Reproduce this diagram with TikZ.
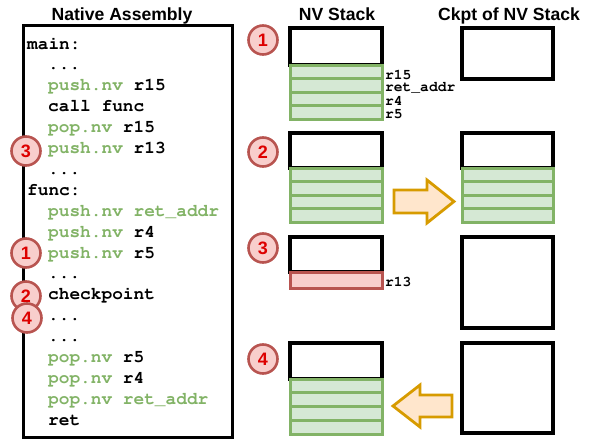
\documentclass[tikz,border=0pt]{standalone}
\usepackage{fontspec}
\setmainfont{Liberation Sans}
\setmonofont{Liberation Mono}
\usetikzlibrary{positioning,calc}
\definecolor{nvgreen}{HTML}{82B366}
\definecolor{nvfill}{HTML}{D5E8D4}
\definecolor{stepline}{HTML}{B85450}
\definecolor{stepfill}{HTML}{F8CECC}
\definecolor{steptext}{HTML}{DD0000}
\definecolor{arrline}{HTML}{D79B00}
\definecolor{arrfill}{HTML}{FFE6CC}
\newcommand*{\nv}[1]{\textcolor{nvgreen}{#1}}
\newcommand*{\skipped}{...}
\newcommand*{\courier}{\fontencoding{T1}\fontfamily{pcr}\bfseries}

\begin{document}
\begin{tikzpicture}[x=1pt,y=-1pt,
  title/.style={font=\fontsize{17.6}{20}\selectfont\bfseries,anchor=base,inner sep=0pt},
  code/.style={font=\courier\fontsize{17.8}{21}\selectfont,anchor=base west,inner sep=0pt},
  reg/.style={font=\courier\fontsize{14.6}{15}\selectfont,anchor=west,inner sep=0pt},
  stepnum/.style={circle,draw=stepline,fill=stepfill,line width=2.6pt,minimum size=29pt,
    inner sep=0pt,text=steptext,font=\fontsize{18}{18}\selectfont\bfseries},
  stackbox/.style={draw=black,line width=3.2pt},
  slot/.style={draw=nvgreen,fill=nvfill,line width=3pt},
  redslot/.style={draw=stepline,fill=stepfill,line width=3pt},
  blockarrow/.style={draw=arrline,fill=arrfill,line width=2.8pt,line join=miter}]
\useasboundingbox (0,0) rectangle (590,439);
% Titles of the three columns
\node[title] (asmtitle) at (122,20) {Native Assembly};
\node[title] (nvtitle) at (337,20) {NV Stack};
\node[title] (ckpttitle) at (509,20) {Ckpt of NV Stack};
% Box of the native assembly
\draw[line width=3pt] (23,25) rectangle (232,437.5);
% Code lines: indent / text
\foreach \ind/\txt [count=\i from 0] in {
  27/main:, 48/\skipped, 48/\nv{push.nv} r15, 48/call func, 48/\nv{pop.nv} r15,
  48/\nv{push.nv} r13, 48/\skipped, 27/func:, 48/\nv{push.nv ret\_addr},
  48/\nv{push.nv} r4, 48/\nv{push.nv} r5, 48/\skipped, 48/checkpoint, 48/\skipped,
  48/\skipped, 48/\nv{pop.nv} r5, 48/\nv{pop.nv} r4, 48/\nv{pop.nv ret\_addr}, 48/ret}
  \node[code] (code\i) at (\ind,49+\i*20.9) {\txt};
% Step marks in the code
\node[stepnum] (codestep3) at (26,151) {3};
\node[stepnum] (codestep1) at (26,253) {1};
\node[stepnum] (codestep2) at (26,296) {2};
\node[stepnum] (codestep4) at (27,318) {4};
% Step 1: four registers pushed
\node[stepnum] (step1) at (263,40) {1};
\draw[stackbox] (290,28) rectangle (382,65);
\foreach \k in {0,1,2,3}
  \draw[slot] (290,65+\k*13.5) rectangle (382,78.5+\k*13.5);
\node[reg] (r15) at (385,75) {r15};
\node[reg] (retaddr) at (385,88) {ret\_addr};
\node[reg] (r4) at (385,101) {r4};
\node[reg] (r5) at (385,114) {r5};
\draw[stackbox] (462,28) rectangle (553,79);
% Step 2: checkpoint copies the stack
\node[stepnum] (step2) at (263,152) {2};
\draw[stackbox] (290,133) rectangle (382,168);
\draw[stackbox] (462,133) rectangle (553,168);
\foreach \k in {0,1,2,3} {
  \draw[slot] (290,168+\k*13.5) rectangle (382,181.5+\k*13.5);
  \draw[slot] (462,168+\k*13.5) rectangle (553,181.5+\k*13.5);
}
\draw[blockarrow] (394,190) -- (427,190) -- (427,180) -- (454,201.5)
  -- (427,223) -- (427,213) -- (394,213) -- cycle;
% Step 3: r13 pushed
\node[stepnum] (step3) at (263,248) {3};
\draw[stackbox] (290,237) rectangle (382,272);
\draw[redslot] (290,272) rectangle (382,288);
\node[reg] (r13) at (385,282) {r13};
\draw[stackbox] (462,237) rectangle (553,328);
% Step 4: stack restored from the checkpoint
\node[stepnum] (step4) at (263,359) {4};
\draw[stackbox] (290,343) rectangle (382,379);
\foreach \k in {0,1,2,3}
  \draw[slot] (290,379+\k*13.75) rectangle (382,392.75+\k*13.75);
\draw[stackbox] (462,343) rectangle (553,433);
\draw[blockarrow] (452,395) -- (420,395) -- (420,385) -- (393,406)
  -- (420,427) -- (420,417) -- (452,417) -- cycle;
\end{tikzpicture}
\end{document}
